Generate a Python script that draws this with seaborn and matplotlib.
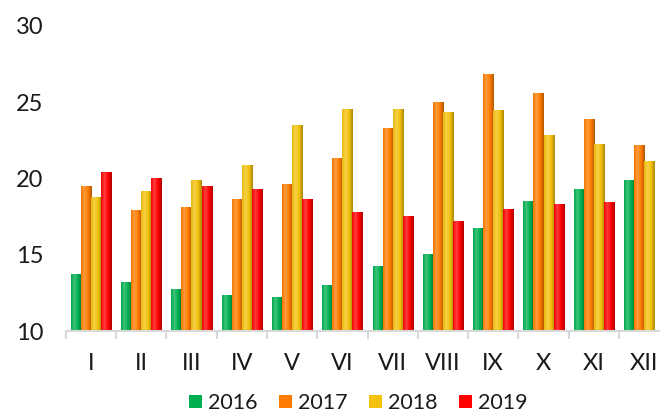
"""
Monthly values 2016-2019 as grouped bars with shaded (cylinder-like) fill.
"""

import numpy as np
import pandas as pd
import matplotlib
matplotlib.use("Agg")
import matplotlib.pyplot as plt
import matplotlib.colors as mcolors
import seaborn as sns

MONTHS = ["I", "II", "III", "IV", "V", "VI", "VII", "VIII", "IX", "X", "XI", "XII"]
YEARS = ["2016", "2017", "2018", "2019"]

VALUES_2016 = [13.7, 13.2, 12.7, 12.3, 12.2, 13.0, 14.2, 15.0, 16.7, 18.5, 19.25, 19.85]
VALUES_2017 = [19.45, 17.9, 18.1, 18.6, 19.6, 21.3, 23.25, 25.0, 26.85, 25.55, 23.9, 22.15]
VALUES_2018 = [18.75, 19.15, 19.9, 20.85, 23.45, 24.55, 24.55, 24.3, 24.45, 22.8, 22.2, 21.1]
VALUES_2019 = [20.4, 20.0, 19.45, 19.3, 18.65, 17.8, 17.5, 17.2, 18.0, 18.3, 18.45, None]

COLORS = ["#00b050", "#ff7c00", "#f4c20d", "#ff0000"]


def shade_bar(ax, bar, color, y_floor):
    """Overlay a horizontal light/dark gradient on one bar."""
    base = np.array(mcolors.to_rgb(color))
    stops = [0.0, 0.3, 0.65, 1.0]
    mixes = [
        base * 0.95,
        base + (1 - base) * 0.25,
        base,
        base * 0.7,
    ]
    xs = np.linspace(0, 1, 32)
    img = np.zeros((1, len(xs), 3))
    for c in range(3):
        img[0, :, c] = np.interp(xs, stops, [m[c] for m in mixes])
    x0 = bar.get_x()
    w, h = bar.get_width(), bar.get_height()
    top = bar.get_y() + h
    ax.imshow(
        img,
        extent=[x0, x0 + w, y_floor, top],
        aspect="auto",
        interpolation="bicubic",
        zorder=bar.get_zorder() + 0.1,
    )


def plot_chart() -> None:
    sns.set_theme(style="white")
    plt.rcParams["font.family"] = ["Lato", "DejaVu Sans"]

    series = {
        "2016": VALUES_2016,
        "2017": VALUES_2017,
        "2018": VALUES_2018,
        "2019": VALUES_2019,
    }
    rows = []
    for year in YEARS:
        for month, value in zip(MONTHS, series[year]):
            if value is not None:
                rows.append({"Month": month, "Year": year, "Value": value})
    df = pd.DataFrame(rows)

    fig = plt.figure(figsize=(6.6, 4.12), dpi=100)
    ax = fig.add_axes([65.7 / 660, 81 / 412, 603.6 / 660, 305 / 412])

    sns.barplot(
        data=df,
        x="Month",
        y="Value",
        hue="Year",
        order=MONTHS,
        hue_order=YEARS,
        palette=COLORS,
        width=0.8,
        saturation=1,
        linewidth=0,
        ax=ax,
    )

    y_min, y_max = 10, 30

    # colour each bar with a soft gradient, keep order of hue containers
    for container, color in zip(ax.containers, COLORS):
        for bar in container:
            if np.isnan(bar.get_height()):
                continue
            shade_bar(ax, bar, color, y_min)

    ax.set_xlim(-0.5, len(MONTHS) - 0.5)
    ax.set_ylim(y_min, y_max)
    ax.set_yticks([10, 15, 20, 25, 30])
    ax.set_xlabel("")
    ax.set_ylabel("")

    for side in ["left", "top", "right"]:
        ax.spines[side].set_visible(False)
    ax.spines["bottom"].set_color("#d9d9d9")
    ax.spines["bottom"].set_linewidth(1.5)
    ax.spines["bottom"].set_zorder(5)

    ax.set_xticks(np.arange(-0.5, len(MONTHS)), minor=True)
    ax.tick_params(axis="x", which="minor", length=6, width=1.5,
                   color="#d9d9d9", direction="out", bottom=True)
    ax.tick_params(axis="x", which="major", length=0, pad=16,
                   labelsize=17, labelcolor="#1a1a1a")
    ax.tick_params(axis="y", length=0, pad=16, labelsize=17,
                   labelcolor="#1a1a1a")

    handles, labels = ax.get_legend_handles_labels()
    ax.legend(
        handles,
        labels,
        loc="upper center",
        bbox_to_anchor=(0.485, -0.14),
        ncol=4,
        frameon=False,
        fontsize=15.5,
        handlelength=0.6,
        handleheight=0.6,
        handletextpad=0.28,
        columnspacing=1.0,
        labelcolor="#1a1a1a",
    )

    fig.savefig("out.png", dpi=100)


if __name__ == "__main__":
    plot_chart()
